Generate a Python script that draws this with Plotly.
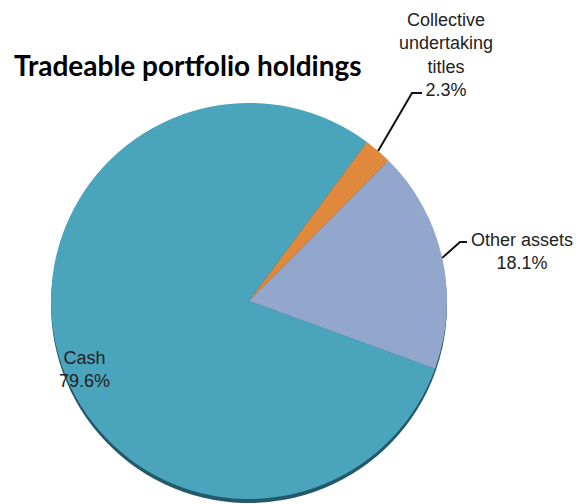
import math
import plotly.graph_objects as go

# ---- data ----
labels = ["Cash", "Collective undertaking titles", "Other assets"]
label_text = ["Cash<br>79.6%", "Collective<br>undertaking<br>titles<br>2.3%", "Other assets<br>18.1%"]
values = [79.6, 2.3, 18.1]
colors = ["#4aa4bb", "#e0883c", "#93a7cd"]
title_text = "Tradeable portfolio holdings"

# ---- layout geometry (pixels) ----
W, H = 580, 504
cx, cy, r = 249, 301, 198
rotation = 110


def px(x):
    return x / W


def py(y):
    return min(1.0, max(0.0, 1 - y / H))


dom_x = [px(cx - r), px(cx + r)]
dom_y = [py(cy + r), py(cy - r)]
shadow_y = [py(cy + r + 4), py(cy - r + 4)]

fig = go.Figure()

# subtle dark rim under the pie (3D edge)
fig.add_trace(go.Pie(
    values=values, labels=labels, sort=False, direction="clockwise",
    rotation=rotation, textinfo="none", hoverinfo="skip",
    marker=dict(colors=["#24596a"] * len(values), line=dict(width=0)),
    domain=dict(x=dom_x, y=shadow_y), showlegend=False,
))

fig.add_trace(go.Pie(
    values=values, labels=labels, sort=False, direction="clockwise",
    rotation=rotation, textinfo="none",
    marker=dict(colors=colors, line=dict(width=0)),
    domain=dict(x=dom_x, y=dom_y), showlegend=False,
))

# angle of each slice mid-point (clockwise from 12 o'clock)
total = sum(values)
mids = []
acc = 0.0
for v in values:
    mids.append(rotation + (acc + v / 2) / total * 360)
    acc += v


def edge(i, rr=r):
    a = math.radians(mids[i])
    return cx + rr * math.sin(a), cy - rr * math.cos(a)


font = dict(family="Liberation Sans, Arial", size=18, color="#222222")
shapes = []
annotations = []

# Collective undertaking titles (leader line)
ex, ey = edge(1)
knee = (412, 93)
end = (422, 93)
shapes.append(dict(type="path", xref="paper", yref="paper",
                   path=f"M {px(ex)} {py(ey)} L {px(knee[0])} {py(knee[1])} L {px(end[0])} {py(end[1])}",
                   line=dict(color="#111111", width=2)))
annotations.append(dict(x=px(446), y=py(55), xref="paper", yref="paper",
                        text=label_text[1], showarrow=False, font=font,
                        align="center", xanchor="center", yanchor="middle"))

# Other assets (leader line)
ex, ey = edge(2)
knee = (460, 242)
end = (467, 242)
shapes.append(dict(type="path", xref="paper", yref="paper",
                   path=f"M {px(ex)} {py(ey)} L {px(knee[0])} {py(knee[1])} L {px(end[0])} {py(end[1])}",
                   line=dict(color="#111111", width=2)))
annotations.append(dict(x=px(522), y=py(251), xref="paper", yref="paper",
                        text=label_text[2], showarrow=False, font=font,
                        align="center", xanchor="center", yanchor="middle"))

# Cash (inside)
annotations.append(dict(x=px(84), y=py(369), xref="paper", yref="paper",
                        text=label_text[0], showarrow=False, font=font,
                        align="center", xanchor="center", yanchor="middle"))

# Title
annotations.append(dict(x=px(12), y=py(65), xref="paper", yref="paper",
                        text=f"<b>{title_text}</b>", showarrow=False,
                        font=dict(family="Lato", size=28, color="#000000"),
                        xanchor="left", yanchor="middle"))

fig.update_layout(
    width=W, height=H,
    margin=dict(l=0, r=0, t=0, b=0),
    paper_bgcolor="white", plot_bgcolor="white",
    shapes=shapes, annotations=annotations,
)

fig.write_html("out.html", config={"displayModeBar": False},
               post_script="document.body.style.margin='0';")
